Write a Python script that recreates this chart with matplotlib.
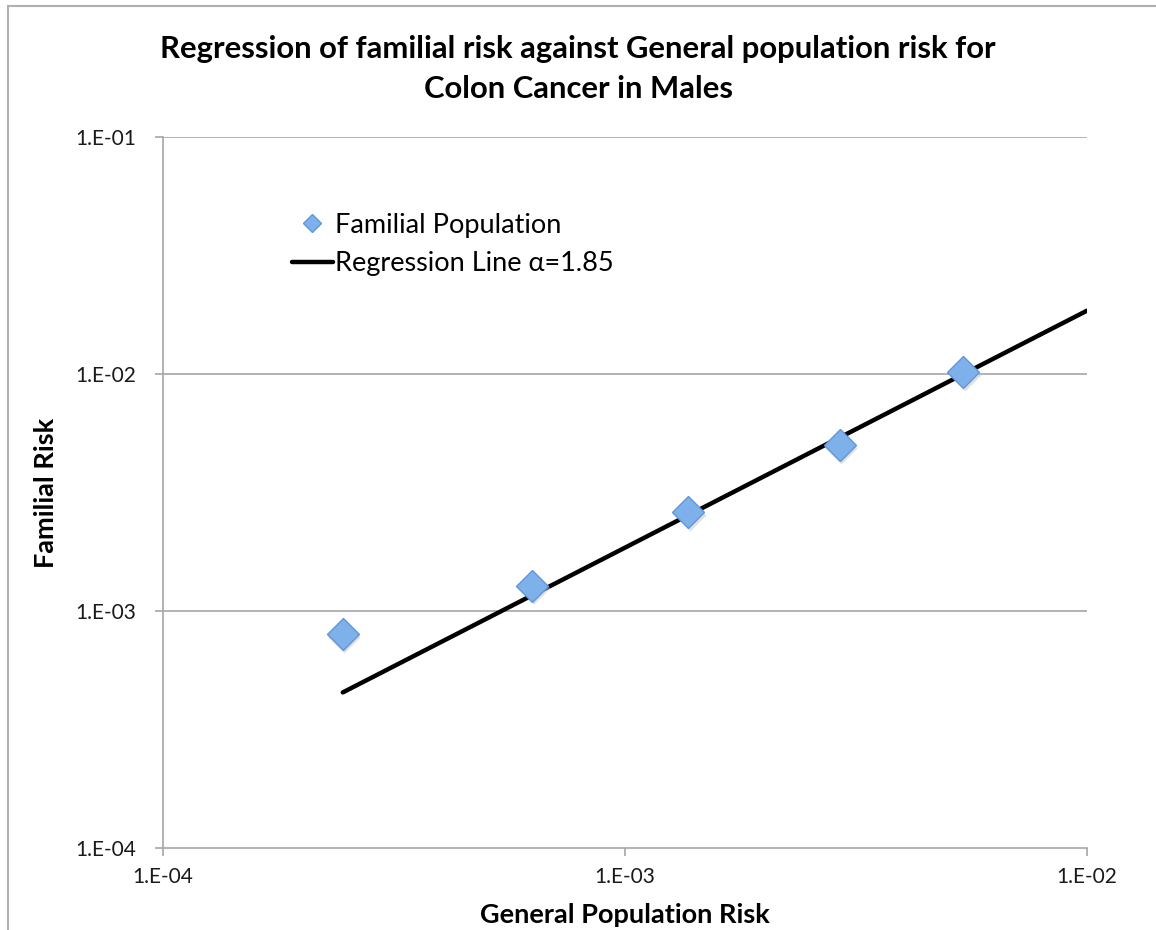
import matplotlib
matplotlib.use("Agg")
import matplotlib.pyplot as plt
from matplotlib.lines import Line2D
import matplotlib.transforms as mtransforms
import numpy as np

plt.rcParams['font.family'] = ['Lato', 'DejaVu Sans']

# General population risk vs familial risk (colon cancer, males)
general_risk = [2.45e-4, 6.3e-4, 1.37e-3, 2.92e-3, 5.4e-3]
familial_risk = [8.0e-4, 1.28e-3, 2.62e-3, 5.0e-3, 1.02e-2]

alpha = 1.85
line_x = [2.45e-4, 1.0e-2]

title = "Regression of familial risk against General population risk for\nColon Cancer in Males"
x_label = "General Population Risk"
y_label = "Familial Risk"
tick_values = [1e-4, 1e-3, 1e-2]
y_tick_values = [1e-4, 1e-3, 1e-2, 1e-1]

fig = plt.figure(figsize=(11.56, 9.30), dpi=100)
ax = fig.add_axes([0.141, 0.0882, 0.7993, 0.7645])

grid_col = '#a6a6a6'

ax.set_xscale('log')
ax.set_yscale('log')
ax.set_xlim(1e-4, 1e-2)
ax.set_ylim(1e-4, 1e-1)

for yv in y_tick_values[1:]:
    ax.axhline(yv, color=grid_col, lw=1.2, zorder=0)

lx = np.array(line_x)
ax.plot(lx, alpha * lx, color='black', lw=3.2, solid_capstyle='round',
        label='Regression Line \u03b1=1.85', zorder=2)

# soft drop shadow under the diamonds
shadow = ax.transData + mtransforms.ScaledTranslation(1.0/72, -2.0/72, fig.dpi_scale_trans)
ax.plot(general_risk, familial_risk, linestyle='none', marker='D', markersize=16,
        markerfacecolor='#bdbdbd', markeredgecolor='none', alpha=0.45,
        transform=shadow, zorder=2)
ax.plot(general_risk, familial_risk, linestyle='none', marker='D', markersize=16,
        markerfacecolor='#7eb1ea', markeredgecolor='#6196d8', markeredgewidth=1.0,
        label='Familial Population', zorder=3)

ax.set_xticks(tick_values)
ax.set_xticklabels(['1.E-04', '1.E-03', '1.E-02'])
ax.set_yticks(y_tick_values)
ax.set_yticklabels(['1.E-04', '1.E-03', '1.E-02', '1.E-01'])
ax.minorticks_off()
ax.tick_params(axis='both', which='major', labelsize=15, color=grid_col,
               length=6, width=1.2, labelcolor='#1a1a1a')
ax.tick_params(axis='x', pad=8)
ax.tick_params(axis='y', pad=13)

for side in ['top', 'right']:
    ax.spines[side].set_visible(False)
for side in ['left', 'bottom']:
    ax.spines[side].set_color(grid_col)
    ax.spines[side].set_linewidth(1.2)

ax.set_xlabel(x_label, fontsize=19.5, fontweight='bold')
ax.xaxis.set_label_coords(0.5, (848 - 903) / 711.0)
ax.set_ylabel(y_label, fontsize=19.5, fontweight='bold')
ax.yaxis.set_label_coords((58 - 163) / 924.0, 0.5)

fig.text(0.5, 1 - 35 / 930, title, ha='center', va='top', fontsize=22.3,
         fontweight='bold', linespacing=1.5)

handles, labels = ax.get_legend_handles_labels()
order = [labels.index('Familial Population'), labels.index('Regression Line \u03b1=1.85')]
leg = ax.legend([handles[i] for i in order], [labels[i] for i in order],
                loc='upper left', bbox_to_anchor=(0.1134, 0.928), frameon=False,
                fontsize=19.5, handlelength=1.5, handletextpad=0.1,
                labelspacing=0.5, markerscale=0.6)

# chart-area frame
fig.add_artist(Line2D([8/1156, 8/1156], [0, 1 - 6/930], color='#b0b0b0', lw=1.5))
fig.add_artist(Line2D([8/1156, 1], [1 - 6/930, 1 - 6/930], color='#b0b0b0', lw=1.5))

fig.savefig('out.png', dpi=100)
